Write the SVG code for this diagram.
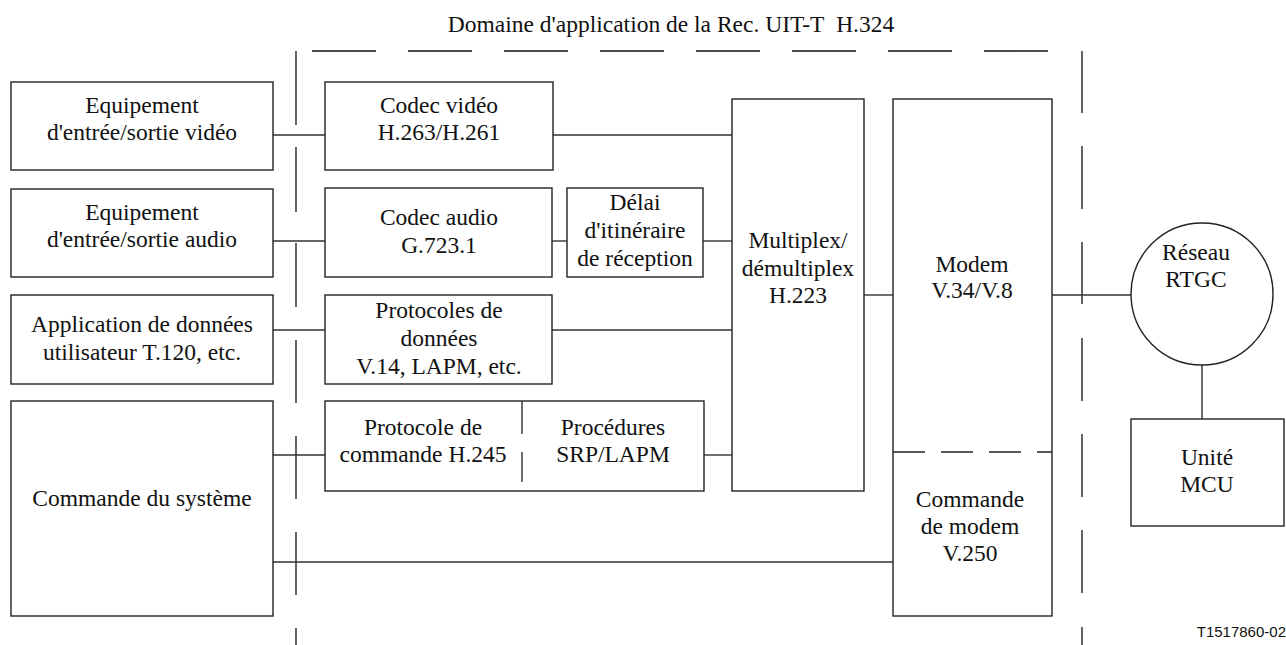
<svg xmlns="http://www.w3.org/2000/svg" width="1286" height="645" viewBox="0 0 1286 645">
<style>
.b{fill:#fff;stroke:#222;stroke-width:1.4}
.c line,.c path{stroke:#333;stroke-width:1.4;fill:none}
.d line{stroke:#111;stroke-width:1.3}
text{font-family:"Liberation Serif","Times New Roman",serif;font-size:23.5px;fill:#111;text-anchor:middle}
.s{font-family:"Liberation Sans",Arial,sans-serif;font-size:15px;text-anchor:end}
</style>
<rect width="1286" height="645" fill="#fff"/>
<text x="671" y="32">Domaine d'application de la Rec. UIT-T&#160; H.324</text>
<g id="scope" class="d">
<line x1="296" y1="51" x2="296" y2="125"/><line x1="296" y1="147" x2="296" y2="212"/><line x1="296" y1="243" x2="296" y2="307"/><line x1="296" y1="340" x2="296" y2="403"/><line x1="296" y1="436" x2="296" y2="499"/><line x1="296" y1="532" x2="296" y2="595"/><line x1="296" y1="628" x2="296" y2="645"/>
<line x1="1082" y1="51" x2="1082" y2="113"/><line x1="1082" y1="146" x2="1082" y2="209"/><line x1="1082" y1="242" x2="1082" y2="304"/><line x1="1082" y1="338" x2="1082" y2="401"/><line x1="1082" y1="434" x2="1082" y2="497"/><line x1="1082" y1="530" x2="1082" y2="593"/><line x1="1082" y1="627" x2="1082" y2="645"/>
<line x1="312" y1="51" x2="1049" y2="51" stroke-dasharray="64 32"/>
</g>
<g id="connectors" class="c">
<line x1="273" y1="135" x2="325" y2="135"/>
<line x1="553" y1="135" x2="732" y2="135"/>
<line x1="273" y1="241" x2="325" y2="241"/>
<line x1="552" y1="241" x2="567" y2="241"/>
<line x1="703" y1="241" x2="732" y2="241"/>
<line x1="273" y1="330" x2="325" y2="330"/>
<line x1="552" y1="330" x2="732" y2="330"/>
<line x1="273" y1="455" x2="325" y2="455"/>
<line x1="704" y1="455" x2="732" y2="455"/>
<line x1="273" y1="562" x2="893" y2="562"/>
<line x1="864" y1="295" x2="893" y2="295"/>
<line x1="1052" y1="295" x2="1131" y2="295"/>
<line x1="1202" y1="365" x2="1202" y2="419"/>
</g>
<g id="video-io"><rect class="b" x="11" y="82" width="262" height="88"/><text x="142" y="113">Equipement</text><text x="142" y="140">d'entrée/sortie vidéo</text></g>
<g id="audio-io"><rect class="b" x="11" y="189" width="262" height="88"/><text x="142" y="220">Equipement</text><text x="142" y="247">d'entrée/sortie audio</text></g>
<g id="data-app"><rect class="b" x="11" y="295" width="262" height="89"/><text x="142" y="332">Application de données</text><text x="142" y="360">utilisateur T.120, etc.</text></g>
<g id="system-ctrl"><rect class="b" x="11" y="401" width="262" height="215"/><text x="142" y="506">Commande du système</text></g>
<g id="video-codec"><rect class="b" x="325" y="82" width="228" height="88"/><text x="439" y="113">Codec vidéo</text><text x="439" y="140">H.263/H.261</text></g>
<g id="audio-codec"><rect class="b" x="325" y="188" width="227" height="89"/><text x="439" y="225">Codec audio</text><text x="439" y="253">G.723.1</text></g>
<g id="delay"><rect class="b" x="567" y="188" width="136" height="89"/><text x="635" y="210">Délai</text><text x="635" y="238">d'itinéraire</text><text x="635" y="266">de réception</text></g>
<g id="data-proto"><rect class="b" x="325" y="295" width="227" height="89"/><text x="439" y="318">Protocoles de</text><text x="439" y="346">données</text><text x="439" y="374">V.14, LAPM, etc.</text></g>
<g id="control-proto"><rect class="b" x="325" y="401" width="379" height="90"/><line x1="522" y1="401" x2="522" y2="434" stroke="#222" stroke-width="1.3"/><line x1="522" y1="452" x2="522" y2="482" stroke="#222" stroke-width="1.3"/><text x="423" y="435">Protocole de</text><text x="423" y="462">commande H.245</text><text x="613" y="435">Procédures</text><text x="613" y="462">SRP/LAPM</text></g>
<g id="mux"><rect class="b" x="732" y="99" width="132" height="392"/><text x="798" y="248">Multiplex/</text><text x="798" y="276">démultiplex</text><text x="798" y="303">H.223</text></g>
<g id="modem"><rect class="b" x="893" y="99" width="159" height="517"/><line x1="893" y1="452" x2="1052" y2="452" stroke="#222" stroke-width="1.3" stroke-dasharray="32 16"/><text x="972" y="272">Modem</text><text x="972" y="298">V.34/V.8</text><text x="970" y="507">Commande</text><text x="970" y="534">de modem</text><text x="970" y="561">V.250</text></g>
<g id="network"><circle class="b" cx="1202" cy="294" r="71"/><text x="1196" y="260">Réseau</text><text x="1196" y="287">RTGC</text></g>
<g id="mcu"><rect class="b" x="1131" y="419" width="153" height="107"/><text x="1207" y="465">Unité</text><text x="1207" y="492">MCU</text></g>
<text class="s" x="1286" y="637">T1517860-02</text>
</svg>
